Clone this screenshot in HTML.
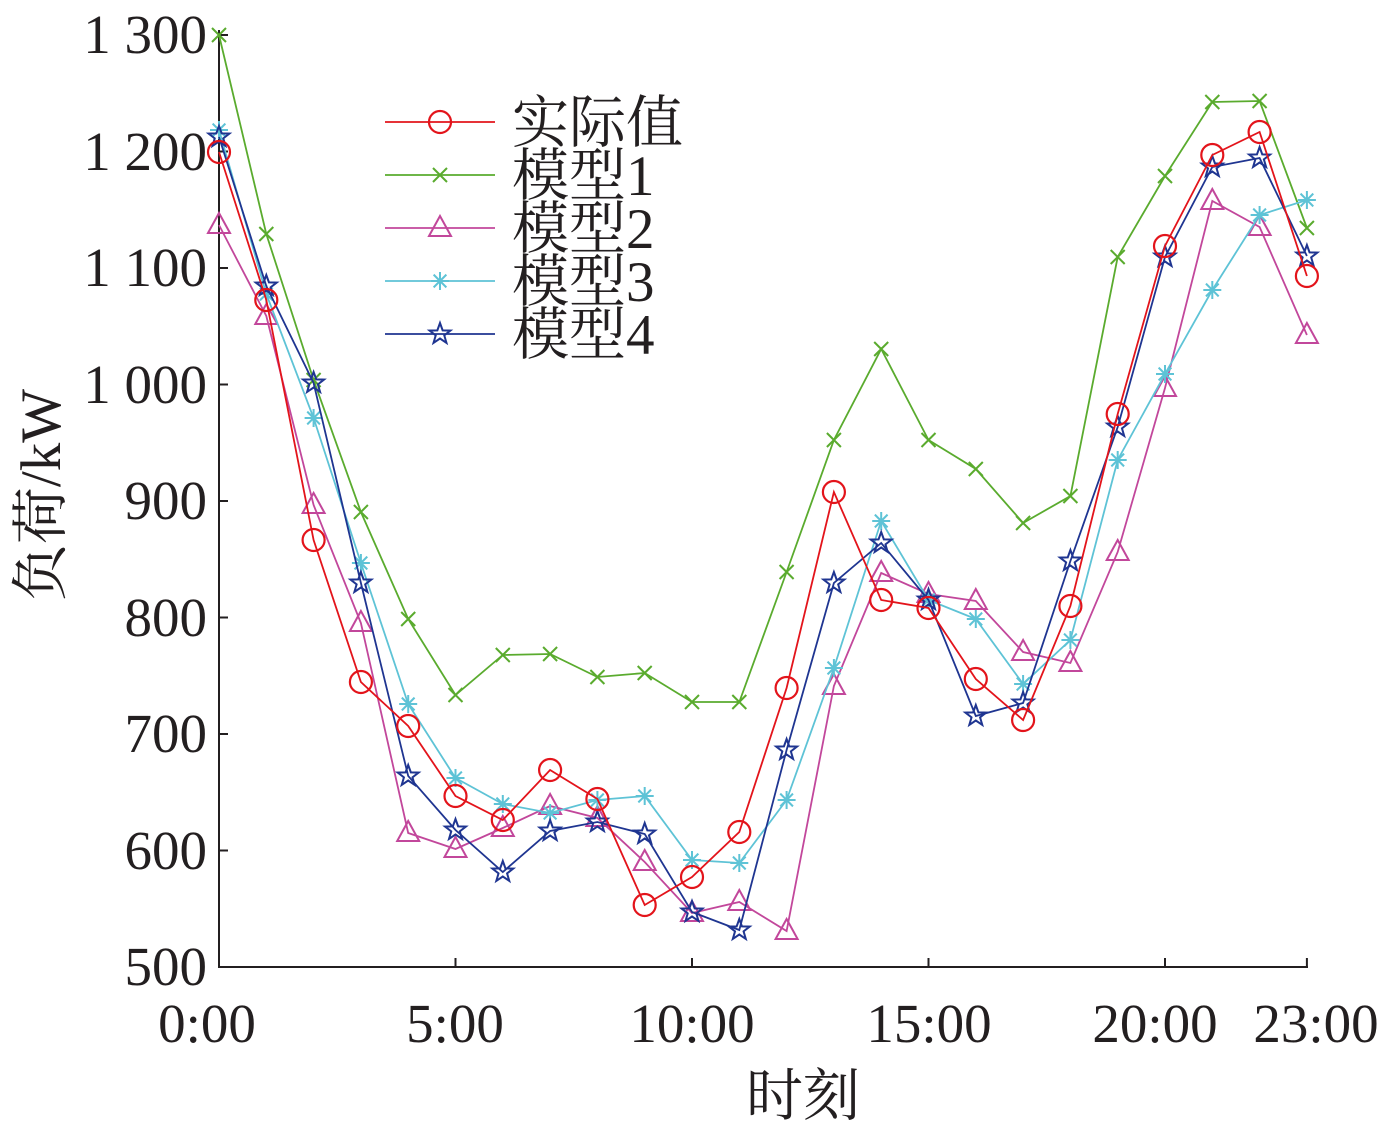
<!DOCTYPE html>
<html><head><meta charset="utf-8"><style>
html,body{margin:0;padding:0;background:#fff;}
svg{display:block;}
text{font-family:"Liberation Serif","Noto Serif CJK SC",serif;fill:#231f20;}
</style></head><body>
<svg id="s" width="1386" height="1126" xmlns="http://www.w3.org/2000/svg">
<g stroke="#231f20" stroke-width="2" fill="none">
<line x1="219" y1="30" x2="219" y2="968"/>
<line x1="218" y1="967" x2="1308" y2="967"/>
</g>
<g id="ticks" stroke="#231f20" stroke-width="2"></g>
<g font-size="55">
<text x="207" y="53" text-anchor="end">1 300</text>
<text x="207" y="170" text-anchor="end">1 200</text>
<text x="207" y="286" text-anchor="end">1 100</text>
<text x="207" y="403" text-anchor="end">1 000</text>
<text x="207" y="519" text-anchor="end">900</text>
<text x="207" y="636" text-anchor="end">800</text>
<text x="207" y="752" text-anchor="end">700</text>
<text x="207" y="869" text-anchor="end">600</text>
<text x="207" y="985" text-anchor="end">500</text>
<text x="207" y="1042" text-anchor="middle">0:00</text>
<text x="455" y="1042" text-anchor="middle">5:00</text>
<text x="692" y="1042" text-anchor="middle">10:00</text>
<text x="929" y="1042" text-anchor="middle">15:00</text>
<text x="1155" y="1042" text-anchor="middle">20:00</text>
<text x="1316" y="1042" text-anchor="middle">23:00</text>
</g>
<g font-size="57">
<text x="803" y="1115" text-anchor="middle">时刻</text>
<text transform="translate(60,495) rotate(-90)" text-anchor="middle">负荷/kW</text>
<text x="512" y="142">实际值</text>
<text x="512" y="195">模型1</text>
<text x="512" y="248">模型2</text>
<text x="512" y="301">模型3</text>
<text x="512" y="354">模型4</text>
</g>
<g id="series"></g>
</svg>
<script>
var NS="http://www.w3.org/2000/svg";
function el(t,a,p){var e=document.createElementNS(NS,t);for(var k in a)e.setAttribute(k,a[k]);p.appendChild(e);return e;}
var tk=document.getElementById('ticks');
for(var v=500;v<=1300;v+=100){var y=967-(v-500)*1.165;el('line',{x1:219,y1:y,x2:228,y2:y},tk);}
[5,10,15,20,23].forEach(function(h){var x=219+h*47.3;el('line',{x1:x,y1:967,x2:x,y2:958},tk);});
var ys={
r:[152,300,540,682,726,796,820,770,799,905,877,832,688,492,600,608,679,720,606,414,246,155,132,276],
g:[35,234,380,512,619,695,655,654,677,673,702,702,572,440,349,440,469,523,496,257,176,102,101,228],
m:[225,316,505,623,833,849,828,806,818,862,913,902,931,686,573,594,601,652,663,552,388,201,227,335],
c:[130,294,418,563,704,778,804,813,800,796,860,863,800,668,521,600,619,684,640,460,374,290,215,200],
b:[137,286,383,583,776,830,872,831,822,834,912,930,750,583,543,600,716,703,561,427,257,167,158,256]};
var cols={r:'#e3141b',g:'#5aab2e',m:'#c2479b',c:'#5ec3d6',b:'#1f3591'};
var ly={r:122,g:175,m:228,c:281,b:334};
var sg=document.getElementById('series');
function marker(k,x,y,g){var c=cols[k];
 if(k=='r')el('circle',{cx:x,cy:y,r:11,fill:'none',stroke:c,'stroke-width':2.2},g);
 else if(k=='g'){el('path',{d:'M'+(x-7)+' '+(y-7)+'L'+(x+7)+' '+(y+7)+'M'+(x-7)+' '+(y+7)+'L'+(x+7)+' '+(y-7),stroke:c,'stroke-width':2},g);}
 else if(k=='m')el('polygon',{points:x+','+(y-12)+' '+(x+11)+','+(y+8)+' '+(x-11)+','+(y+8),fill:'none',stroke:c,'stroke-width':2},g);
 else if(k=='c'){var d='';for(var i=0;i<4;i++){var a=i*Math.PI/4;d+='M'+(x-9*Math.cos(a))+' '+(y-9*Math.sin(a))+'L'+(x+9*Math.cos(a))+' '+(y+9*Math.sin(a));}el('path',{d:d,stroke:c,'stroke-width':2},g);}
 else {var p='';for(var i=0;i<10;i++){var rr=i%2?4.5:11,a=-Math.PI/2+i*Math.PI/5;p+=(x+rr*Math.cos(a))+','+(y+rr*Math.sin(a))+' ';}el('polygon',{points:p,fill:'none',stroke:c,'stroke-width':2},g);}
}
['g','m','c','b','r'].forEach(function(k){
 var g=el('g',{},sg);var pts=ys[k].map(function(y,i){return (219+i*47.3)+','+y;}).join(' ');
 el('polyline',{points:pts,fill:'none',stroke:cols[k],'stroke-width':1.8},g);
 ys[k].forEach(function(y,i){marker(k,219+i*47.3,y,g);});
 el('line',{x1:385,y1:ly[k],x2:495,y2:ly[k],stroke:cols[k],'stroke-width':1.8},g);
 marker(k,440,ly[k],g);
});
</script>
</body></html>
